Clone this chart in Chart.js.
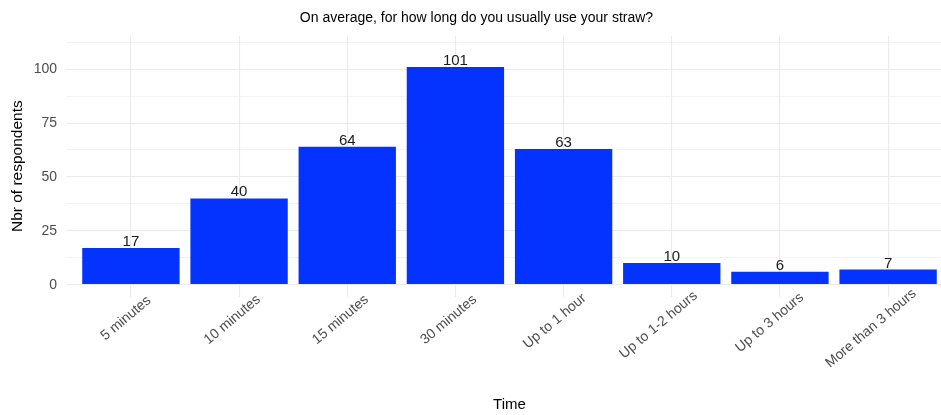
<!DOCTYPE html>
<html>
<head>
<meta charset="utf-8">
<script src="https://cdn.jsdelivr.net/npm/chart.js@4/dist/chart.umd.min.js"></script>
<style>
  html, body { margin: 0; padding: 0; background: #ffffff; overflow: hidden; }
  #wrap { width: 953px; height: 415px; }
</style>
</head>
<body>
<div id="wrap"><canvas id="chart" width="953" height="415"></canvas></div>
<script>
// Survey answers: how long a straw is typically used
const categories = ['5 minutes', '10 minutes', '15 minutes', '30 minutes', 'Up to 1 hour', 'Up to 1-2 hours', 'Up to 3 hours', 'More than 3 hours'];
const respondents = [17, 40, 64, 101, 63, 10, 6, 7];
const yMajorTicks = [0, 25, 50, 75, 100];
const yMinorTicks = [12.5, 37.5, 62.5, 87.5, 112.5];

const FONT = '"Liberation Sans", Arial, Helvetica, sans-serif';
const BAR_COLOR = '#0433ff';
const GRID = '#ebebeb';

const points = respondents.map((v, i) => ({ x: i + 1, y: v }));
const yTicksAll = yMajorTicks.concat(yMinorTicks).sort((a, b) => a - b);

// Value labels above each bar, and rotated category labels under the axis
const annotate = {
  id: 'annotate',
  afterDatasetsDraw(chart) {
    const ctx = chart.ctx;
    const meta = chart.getDatasetMeta(0);
    ctx.save();
    ctx.font = '15px ' + FONT;
    ctx.fillStyle = '#1a1a1a';
    ctx.textAlign = 'center';
    ctx.textBaseline = 'alphabetic';
    meta.data.forEach((bar, i) => {
      ctx.fillText(String(respondents[i]), bar.x, bar.y - 2);
    });
    ctx.restore();
  },
  afterDraw(chart) {
    const ctx = chart.ctx;
    const xs = chart.scales.x;
    const angle = -40 * Math.PI / 180;
    ctx.save();
    ctx.font = '14px ' + FONT;
    ctx.fillStyle = '#4d4d4d';
    ctx.textAlign = 'left';
    ctx.textBaseline = 'middle';
    categories.forEach((label, i) => {
      const px = xs.getPixelForValue(i + 1);
      const w = ctx.measureText(label).width;
      ctx.save();
      ctx.translate(px + 9, chart.chartArea.bottom + 10);
      ctx.rotate(angle);
      ctx.fillText(label, -0.8 * w, 0);
      ctx.restore();
    });
    ctx.restore();
  }
};

new Chart(document.getElementById('chart'), {
  type: 'bar',
  data: {
    datasets: [{
      data: points,
      backgroundColor: BAR_COLOR,
      borderWidth: 0,
      barPercentage: 0.9,
      categoryPercentage: 1.0
    }]
  },
  options: {
    responsive: false,
    animation: false,
    layout: { padding: 0 },
    plugins: {
      legend: { display: false },
      tooltip: { enabled: false },
      title: {
        display: true,
        text: 'On average, for how long do you usually use your straw?',
        color: '#000000',
        font: { family: FONT, size: 14, weight: 'normal' },
        padding: { top: 9.5, bottom: 9.5 }
      }
    },
    scales: {
      x: {
        type: 'linear',
        min: 0.4,
        max: 8.6,
        offset: false,
        afterBuildTicks(scale) {
          scale.ticks = categories.map((c, i) => ({ value: i + 1 }));
        },
        afterFit(scale) { scale.height = 118.5; },
        ticks: { display: false },
        grid: { color: GRID, lineWidth: 1.1, drawTicks: false, offset: false },
        border: { display: false },
        title: {
          display: true,
          text: 'Time',
          color: '#000000',
          font: { family: FONT, size: 15, weight: 'normal' },
          padding: { top: 0, bottom: 1 }
        }
      },
      y: {
        type: 'linear',
        min: -5.5,
        max: 115.5,
        afterBuildTicks(scale) {
          scale.ticks = yTicksAll.map(v => ({ value: v }));
        },
        afterFit(scale) { scale.width = 66; },
        ticks: {
          padding: 9,
          color: '#4d4d4d',
          font: { family: FONT, size: 14 },
          callback: (v) => yMajorTicks.includes(v) ? String(v) : ''
        },
        grid: {
          drawTicks: false,
          color: GRID,
          lineWidth: (c) => (c.tick && yMajorTicks.includes(c.tick.value)) ? 1.1 : 0.6
        },
        border: { display: false },
        title: {
          display: true,
          text: 'Nbr of respondents',
          color: '#000000',
          font: { family: FONT, size: 15.5, weight: 'normal' },
          padding: { top: 8.5, bottom: 0 }
        }
      }
    }
  },
  plugins: [annotate]
});
</script>
</body>
</html>
